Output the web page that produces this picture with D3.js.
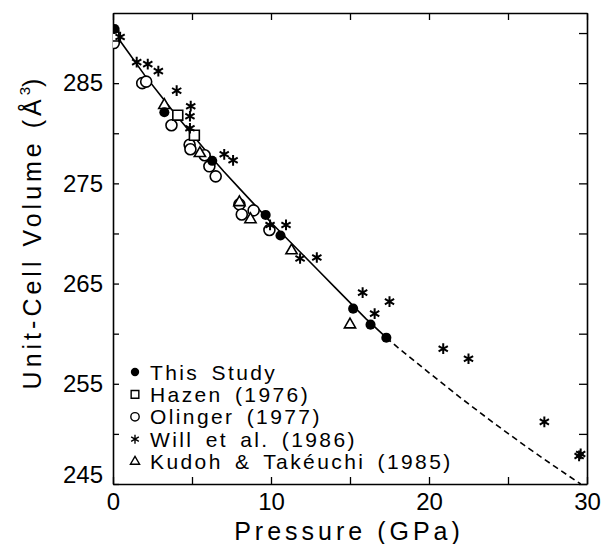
<!DOCTYPE html>
<html><head><meta charset="utf-8">
<script src="https://cdn.jsdelivr.net/npm/d3@7"></script>
<style>body{margin:0;background:#fff}</style>
</head><body><svg id="c" width="602" height="544"></svg>
<script>
// ---- data (Pressure GPa, Volume Å^3) ----
const thisStudyP = [0.1, 3.25, 6.28, 9.66, 10.6, 15.2, 16.3, 17.3];
const thisStudyV = [290.4, 282.1, 277.25, 271.85, 269.8, 262.5, 260.9, 259.6];

const hazenP = [0.05, 4.1, 5.15];
const hazenV = [289.7, 281.8, 279.8];

const olingerP = [0.05, 1.85, 2.1, 3.7, 4.85, 4.9, 5.8, 6.1, 6.5, 8.0, 8.15, 8.9, 9.9];
const olingerV = [289.0, 285.0, 285.15, 280.8, 278.85, 278.4, 277.8, 276.7, 275.7, 272.9, 271.9, 272.3, 270.35];

const willP = [0.45, 1.5, 2.2, 2.87, 4.03, 4.92, 4.87, 4.87, 7.04, 7.6, 9.94, 10.95, 11.84, 12.9, 15.8, 16.56, 17.5, 20.9, 22.5, 27.3, 29.5, 29.6];
const willV = [289.6, 287.1, 286.9, 286.2, 284.25, 282.7, 281.7, 280.5, 277.9, 277.3, 270.85, 270.85, 267.5, 267.6, 264.1, 262.0, 263.2, 258.5, 257.5, 251.2, 247.8, 248.0];

const kudohP = [3.25, 5.5, 8.0, 8.7, 11.3, 15.0];
const kudohV = [282.8, 278.0, 273.1, 271.4, 268.3, 260.9];

// fitted equation of state
const fitP = [0, 1, 2, 3, 4, 5, 6, 7, 8, 9, 10, 11, 12, 13, 14, 15, 16, 17.3];
const fitV = [290.2, 288.0, 285.8, 283.8, 281.8, 279.9, 278.0, 276.2, 274.5, 272.8, 271.1, 269.5, 267.9, 266.3, 264.7, 263.1, 261.5, 259.6];
const extP = [17.3, 18, 20, 22, 24, 26, 28, 29.6];
const extV = [259.6, 258.65, 256.1, 253.6, 251.2, 248.9, 246.7, 245.0];

const xTicks = [0, 5, 10, 15, 20, 25, 30];
const xLabels = [0, 10, 20, 30];
const yTicks = [245, 250, 255, 260, 265, 270, 275, 280, 285, 290];
const yLabels = [245, 255, 265, 275, 285];

const legendNames = ["This Study", "Hazen (1976)", "Olinger (1977)", "Will et al. (1986)", "Kudoh & Takéuchi (1985)"];

// ---- layout ----
const L = 113, R = 587, T = 13, B = 484;
const svg = d3.select("#c");
const x = d3.scaleLinear().domain([0, 30]).range([L, R]);
const y = d3.scaleLinear().domain([245, 292]).range([B, T]);
const FONT = "'Liberation Sans', Arial, sans-serif";

// axes
const ax = svg.append("g").attr("font-family", FONT);
const gB = ax.append("g").attr("transform", `translate(0,${B})`)
  .call(d3.axisBottom(x).tickValues(xTicks).tickSizeInner(-7).tickSizeOuter(0).tickPadding(9)
    .tickFormat(d => xLabels.includes(d) ? d : ""));
const gT = ax.append("g").attr("transform", `translate(0,${T})`)
  .call(d3.axisTop(x).tickValues(xTicks).tickSizeInner(-7).tickSizeOuter(0).tickFormat(""));
const gL = ax.append("g").attr("transform", `translate(${L},0)`)
  .call(d3.axisLeft(y).tickValues(yTicks).tickSizeInner(-6).tickSizeOuter(0).tickPadding(10)
    .tickFormat(d => yLabels.includes(d) ? d : ""));
const gR = ax.append("g").attr("transform", `translate(${R},0)`)
  .call(d3.axisRight(y).tickValues(yTicks).tickSizeInner(-8).tickSizeOuter(0).tickFormat(""));
[gB, gT, gL, gR].forEach(g => {
  g.selectAll("path.domain").attr("stroke", "#000").attr("stroke-width", 1.6);
  g.selectAll(".tick line").attr("stroke", "#000").attr("stroke-width", 1.3);
  g.selectAll("text").attr("font-size", 24).attr("fill", "#000").attr("font-family", FONT);
});
gL.selectAll(".tick").filter(d => d === 245).select("text").attr("dy", "-0.05em");

// clip
svg.append("clipPath").attr("id", "clip").append("rect")
  .attr("x", L).attr("y", T).attr("width", R - L).attr("height", B - T);

const line = d3.line().x(d => x(d[0])).y(d => y(d[1]));
const plot = svg.append("g").attr("clip-path", "url(#clip)");
plot.append("path").datum(fitP.map((p, i) => [p, fitV[i]]))
  .attr("d", line).attr("fill", "none").attr("stroke", "#000").attr("stroke-width", 1.6);
plot.append("path").datum(extP.map((p, i) => [p, extV[i]]))
  .attr("d", line).attr("fill", "none").attr("stroke", "#000").attr("stroke-width", 1.6)
  .attr("stroke-dasharray", "6,4");

// markers
const sym = {
  filled: d3.symbol().type(d3.symbolCircle).size(80),
  square: d3.symbol().type(d3.symbolSquare2).size(125),
  circle: d3.symbol().type(d3.symbolCircle).size(95),
  star: d3.symbol().type(d3.symbolAsterisk).size(80),
  tri: d3.symbol().type(d3.symbolTriangle2).size(90)
};
const symL = {
  filled: d3.symbol().type(d3.symbolCircle).size(55),
  square: d3.symbol().type(d3.symbolSquare2).size(75),
  circle: d3.symbol().type(d3.symbolCircle).size(55),
  star: d3.symbol().type(d3.symbolAsterisk).size(55),
  tri: d3.symbol().type(d3.symbolTriangle2).size(60)
};
const style = {
  filled: {fill: "#000", stroke: "none", sw: 0},
  square: {fill: "#fff", stroke: "#000", sw: 1.6},
  circle: {fill: "#fff", stroke: "#000", sw: 1.6},
  star: {fill: "none", stroke: "#000", sw: 2},
  tri: {fill: "#fff", stroke: "#000", sw: 1.6}
};
function drawSeries(P, V, key) {
  plot.append("g").selectAll("path").data(P.map((p, i) => [p, V[i]])).join("path")
    .attr("transform", d => `translate(${x(d[0])},${y(d[1])})`)
    .attr("d", sym[key]())
    .attr("fill", style[key].fill).attr("stroke", style[key].stroke)
    .attr("stroke-width", style[key].sw);
}
drawSeries(olingerP, olingerV, "circle");
drawSeries(hazenP, hazenV, "square");
drawSeries(kudohP, kudohV, "tri");
drawSeries(willP, willV, "star");
drawSeries(thisStudyP, thisStudyV, "filled");

// legend
const keys = ["filled", "square", "circle", "star", "tri"];
const lg = svg.append("g");
keys.forEach((k, i) => {
  const cy = 372 + i * 22.4;
  lg.append("path").attr("transform", `translate(135,${cy})`).attr("d", symL[k]())
    .attr("fill", style[k].fill).attr("stroke", style[k].stroke)
    .attr("stroke-width", k === "filled" ? 0 : 1.4);
  lg.append("text").attr("x", 150).attr("y", cy + 7.5).text(legendNames[i])
    .attr("font-family", FONT).attr("font-size", 21).attr("letter-spacing", 2.4)
    .attr("word-spacing", 4).attr("fill", "#000");
});

// axis titles
svg.append("text").attr("x", 349).attr("y", 540).attr("text-anchor", "middle")
  .attr("font-family", FONT).attr("font-size", 25).attr("letter-spacing", 4)
  .attr("fill", "#000").text("Pressure (GPa)");
const yt = svg.append("text").attr("transform", "translate(41,232) rotate(-90)")
  .attr("text-anchor", "middle").attr("font-family", FONT).attr("font-size", 25)
  .attr("letter-spacing", 4).attr("fill", "#000");
yt.append("tspan").text("Unit-Cell Volume (Å");
yt.append("tspan").attr("dy", -11).attr("font-size", 15).attr("letter-spacing", 0).text("3");
yt.append("tspan").attr("dy", 11).text(")");
</script></body></html>
